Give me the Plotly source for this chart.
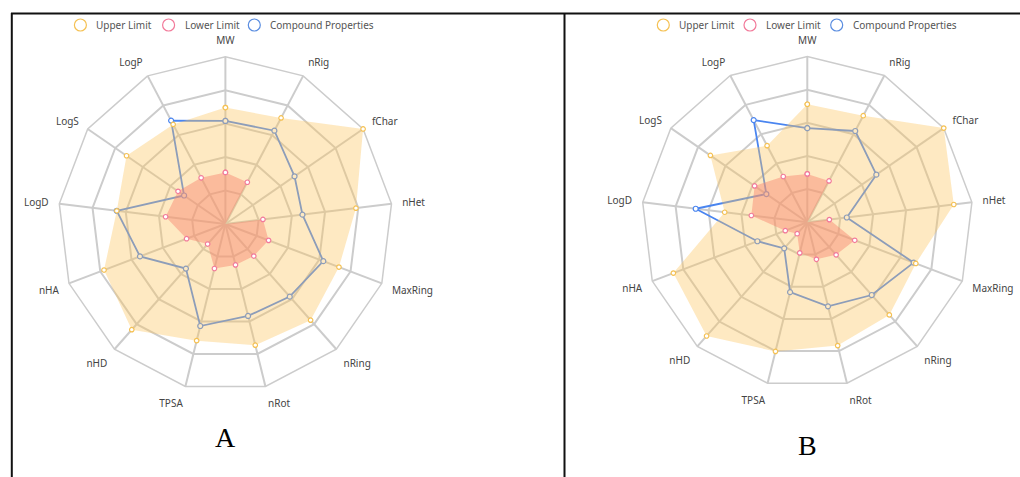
import plotly.graph_objects as go

W, H = 1020, 477

categories = ["MW", "nRig", "fChar", "nHet", "MaxRing", "nRing", "nRot",
              "TPSA", "nHD", "nHA", "LogD", "LogS", "LogP"]

# Panel A (values in grid-ring units, 0-5)
upper_a = [3.48, 3.58, 5.0, 3.93, 3.63, 3.84, 3.73, 3.59, 4.22, 3.88, 3.27, 3.59, 3.36]
lower_a = [1.54, 1.41, 0.0, 1.13, 1.38, 1.28, 1.26, 1.37, 0.80, 1.24, 1.80, 1.72, 1.56]
compound_a = [3.08, 3.15, 2.51, 2.32, 3.13, 2.90, 2.83, 3.14, 1.78, 2.73, 3.27, 1.50, 3.49]

# Panel B
upper_b = [3.56, 3.63, 5.0, 4.45, 3.50, 3.73, 3.83, 4.01, 4.58, 4.32, 2.51, 3.55, 2.61]
lower_b = [1.46, 1.41, 0.0, 0.67, 1.53, 1.31, 1.15, 0.95, 0.46, 0.71, 1.70, 1.93, 1.56]
compound_b = [2.84, 3.11, 2.53, 1.20, 3.43, 2.93, 2.61, 2.17, 1.05, 1.61, 3.39, 1.50, 3.48]

series_names = ["Upper Limit", "Lower Limit", "Compound Properties"]
panel_labels = ["A", "B"]

ORANGE = "#f5c153"
PINK = "#f27a9a"
BLUE = "#4a85f0"
FONT = "Noto Sans"

def closed(v):
    return list(v) + [v[0]]

theta = closed(categories)

fig = go.Figure()

def add_panel(polar, up, lo, comp):
    # compound line drawn first so the fills tint it
    fig.add_trace(go.Scatterpolar(
        r=closed(comp), theta=theta, subplot=polar, mode="lines+markers",
        line=dict(color=BLUE, width=1.8),
        marker=dict(symbol="circle", size=5, color="white",
                    line=dict(color=BLUE, width=1.2)),
        name=series_names[2], showlegend=False, hoverinfo="skip"))
    fig.add_trace(go.Scatterpolar(
        r=closed(up), theta=theta, subplot=polar, mode="markers",
        fill="toself", fillcolor="rgba(252,198,95,0.38)",
        line=dict(color=ORANGE, width=0),
        marker=dict(symbol="circle", size=4.5, color="white",
                    line=dict(color=ORANGE, width=1.2)),
        name=series_names[0], showlegend=False, hoverinfo="skip"))
    fig.add_trace(go.Scatterpolar(
        r=closed(lo), theta=theta, subplot=polar, mode="markers",
        fill="toself", fillcolor="rgba(248,130,110,0.45)",
        line=dict(color=PINK, width=0),
        marker=dict(symbol="circle", size=4.5, color="white",
                    line=dict(color=PINK, width=1.2)),
        name=series_names[1], showlegend=False, hoverinfo="skip"))

add_panel("polar", upper_a, lower_a, compound_a)
add_panel("polar2", upper_b, lower_b, compound_b)

def polar_layout(cx, cy, R):
    return dict(
        domain=dict(x=[(cx - R) / W, (cx + R) / W],
                    y=[1 - (cy + R) / H, 1 - (cy - R) / H]),
        bgcolor="rgba(0,0,0,0)",
        gridshape="linear",
        radialaxis=dict(range=[0, 5], tickvals=[1, 2, 3, 4, 5],
                        showticklabels=False, ticks="", showline=False,
                        gridcolor="#cccccc", gridwidth=1.5,
                        layer="below traces"),
        angularaxis=dict(type="category", categoryarray=categories,
                         rotation=90, direction="clockwise",
                         showline=True, linecolor="#cccccc", linewidth=1.5,
                         gridcolor="#cccccc", gridwidth=1.5,
                         ticks="outside", ticklen=8, tickcolor="rgba(0,0,0,0)",
                         tickfont=dict(family=FONT, size=10, color="#444"),
                         layer="below traces"),
    )

fig.update_layout(
    width=W, height=H,
    margin=dict(l=0, r=0, t=0, b=0),
    paper_bgcolor="white", plot_bgcolor="white",
    showlegend=False,
    polar=polar_layout(225.4, 224.0, 167.3),
    polar2=polar_layout(807.3, 222.3, 165.8),
)

shapes = []
annotations = []

def px(x):
    return x / W

def py(y):
    return 1 - y / H

# frame lines
shapes.append(dict(type="line", xref="paper", yref="paper",
                   x0=px(11), x1=px(1020), y0=py(13.5), y1=py(13.5),
                   line=dict(color="#111", width=2)))
shapes.append(dict(type="line", xref="paper", yref="paper",
                   x0=px(11.8), x1=px(11.8), y0=py(13), y1=py(477),
                   line=dict(color="#111", width=2)))
shapes.append(dict(type="line", xref="paper", yref="paper",
                   x0=px(564.5), x1=px(564.5), y0=py(13), y1=py(477),
                   line=dict(color="#111", width=2)))

# manual legends
legend_colors = [ORANGE, PINK, "#5a8de0"]
legend_circles = [[80.4, 168.6, 254.3], [663.3, 750.0, 836.7]]
for circ_x in legend_circles:
    for cxp, col, name in zip(circ_x, legend_colors, series_names):
        r = 6.0
        shapes.append(dict(type="circle", xref="paper", yref="paper",
                           x0=px(cxp - r), x1=px(cxp + r),
                           y0=py(25 + r), y1=py(25 - r),
                           line=dict(color=col, width=1.2),
                           fillcolor="rgba(0,0,0,0)"))
        annotations.append(dict(x=px(cxp + 14), y=py(25), xref="paper", yref="paper",
                                text=name, showarrow=False, xanchor="left",
                                yanchor="middle",
                                font=dict(family=FONT, size=10, color="#555")))

# panel letters
for (lx, ly), lab in zip([(225.4, 437), (807.3, 445)], panel_labels):
    annotations.append(dict(x=px(lx), y=py(ly), xref="paper", yref="paper",
                            text=lab, showarrow=False, xanchor="center",
                            yanchor="middle",
                            font=dict(family="Liberation Serif", size=28,
                                      color="#000")))

fig.update_layout(shapes=shapes, annotations=annotations)

fig.write_html("out.html")
